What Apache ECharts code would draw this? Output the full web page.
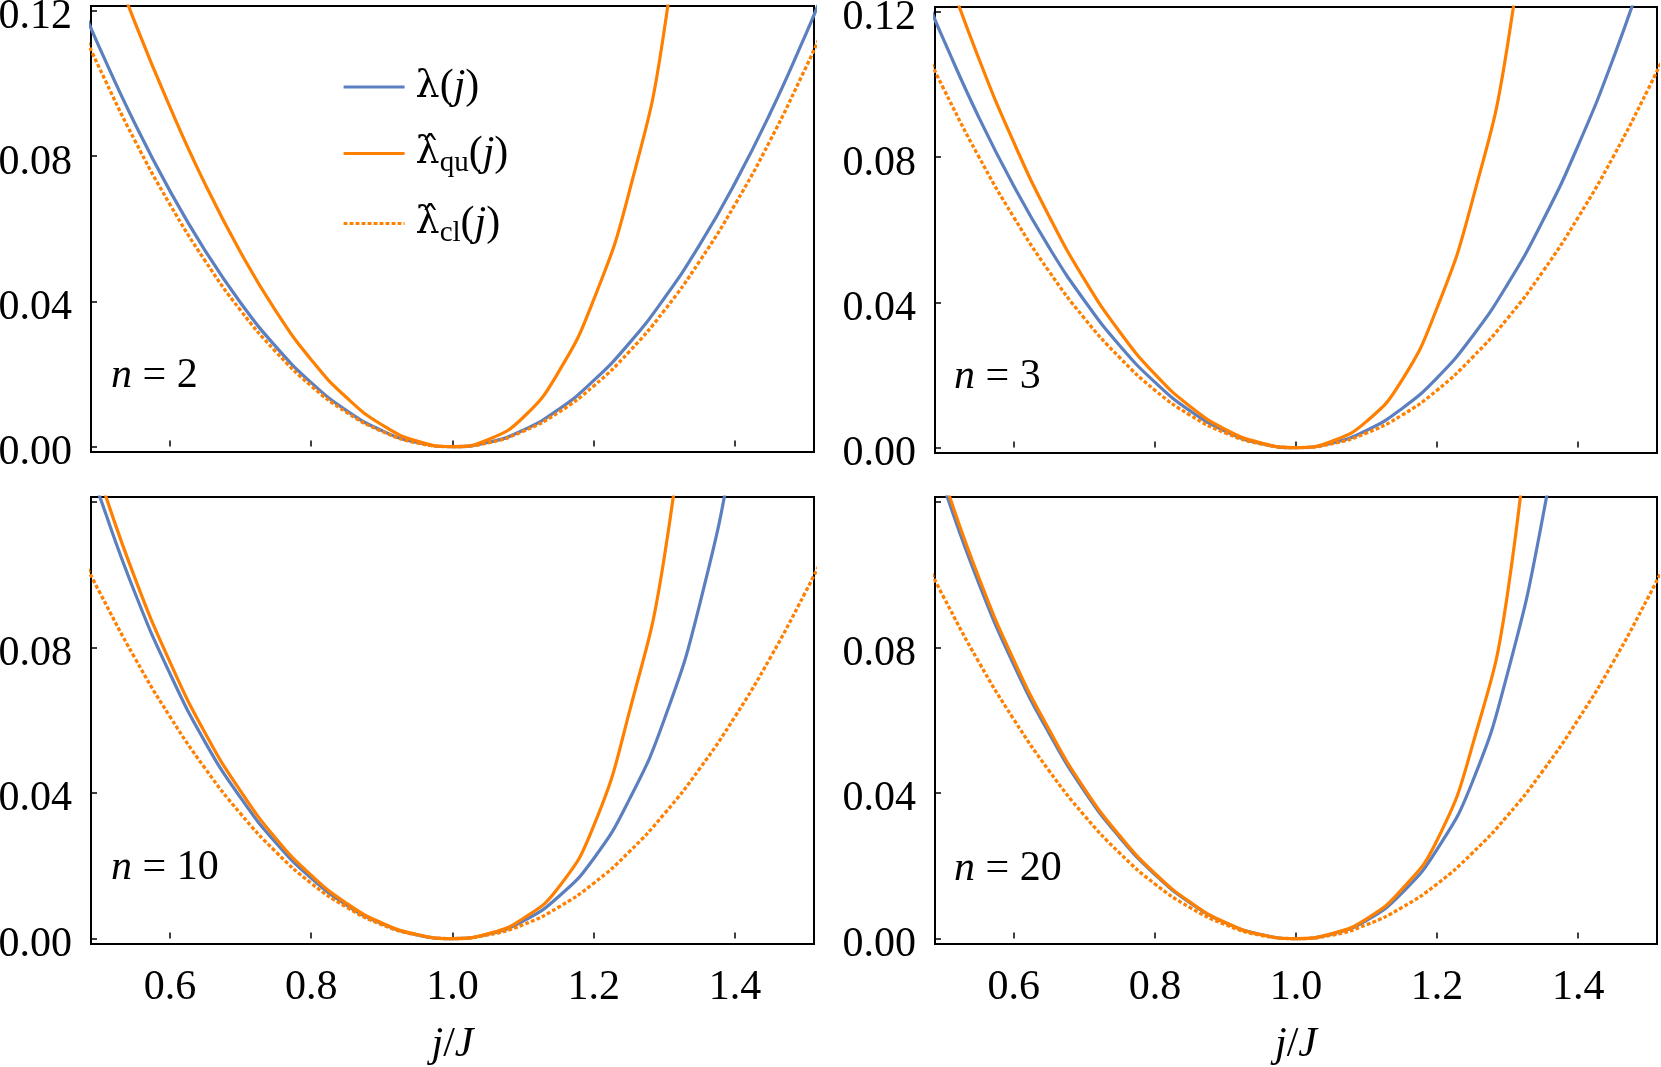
<!DOCTYPE html>
<html><head><meta charset="utf-8">
<script src="https://cdn.jsdelivr.net/npm/echarts@6/dist/echarts.min.js"></script>
<style>html,body{margin:0;padding:0;background:#fff}#c{width:1661px;height:1067px}</style>
</head><body><div id="c"></div>
<script>
// shared x grid (j/J)
const xs = [0.48, 0.50, 0.55, 0.60, 0.65, 0.70, 0.75, 0.80, 0.85, 0.90, 0.95, 1.00, 1.05, 1.10, 1.15, 1.20, 1.25, 1.30, 1.35, 1.40, 1.45, 1.50, 1.52];

// n = 2
const lam_n2 = [0.1190, 0.1100, 0.0891, 0.0704, 0.0539, 0.0396, 0.0275, 0.0176, 0.0099, 0.0044, 0.0011, 0, 0.0011, 0.0045, 0.0102, 0.0182, 0.0284, 0.0409, 0.0556, 0.0726, 0.0919, 0.1135, 0.1228];
const qu_n2  = [0.1540, 0.1430, 0.1170, 0.0935, 0.0722, 0.0535, 0.0373, 0.0239, 0.0135, 0.0060, 0.0015, 0, 0.0019, 0.0080, 0.0205, 0.0405, 0.0700, 0.1150, 0.2000, null, null, null, null];
const cl_n2  = [0.1128, 0.1043, 0.0844, 0.0667, 0.0511, 0.0375, 0.0261, 0.0167, 0.0094, 0.0042, 0.0010, 0, 0.0010, 0.0042, 0.0094, 0.0167, 0.0261, 0.0375, 0.0511, 0.0667, 0.0844, 0.1043, 0.1128];
// n = 3
const lam_n3 = [0.1217, 0.1125, 0.0911, 0.0720, 0.0551, 0.0405, 0.0281, 0.0180, 0.0101, 0.0045, 0.0011, 0, 0.0012, 0.0047, 0.0107, 0.0192, 0.0306, 0.0450, 0.0625, 0.0832, 0.1073, 0.1350, 0.1470];
const qu_n3  = [0.1460, 0.1338, 0.1073, 0.0840, 0.0637, 0.0463, 0.0319, 0.0202, 0.0113, 0.0050, 0.0013, 0, 0.0017, 0.0072, 0.0185, 0.0385, 0.0680, 0.1110, 0.1900, null, null, null, null];
const cl_n3  = [0.1071, 0.0990, 0.0802, 0.0634, 0.0485, 0.0356, 0.0248, 0.0158, 0.0089, 0.0040, 0.0010, 0, 0.0010, 0.0040, 0.0089, 0.0158, 0.0248, 0.0356, 0.0485, 0.0634, 0.0802, 0.0990, 0.1071];
// n = 10
const lam_n10 = [0.1336, 0.1218, 0.0952, 0.0728, 0.0539, 0.0387, 0.0263, 0.0166, 0.0092, 0.0041, 0.0010, 0, 0.0012, 0.0048, 0.0115, 0.0220, 0.0381, 0.0603, 0.0919, 0.1376, 0.2005, null, null];
const qu_n10  = [0.1390, 0.1268, 0.0993, 0.0760, 0.0564, 0.0405, 0.0275, 0.0174, 0.0097, 0.0043, 0.0011, 0, 0.0013, 0.0055, 0.0140, 0.0310, 0.0620, 0.1050, 0.1850, null, null, null, null];
const cl_n10  = [0.1030, 0.0953, 0.0772, 0.0610, 0.0467, 0.0343, 0.0238, 0.0152, 0.0086, 0.0038, 0.0010, 0, 0.0010, 0.0038, 0.0086, 0.0152, 0.0238, 0.0343, 0.0467, 0.0610, 0.0772, 0.0953, 0.1030];
// n = 20
const lam_n20 = [0.1366, 0.1245, 0.0978, 0.0752, 0.0564, 0.0405, 0.0278, 0.0176, 0.0098, 0.0043, 0.0011, 0, 0.0012, 0.0050, 0.0125, 0.0245, 0.0430, 0.0730, 0.1160, 0.1750, null, null, null];
const qu_n20  = [0.1388, 0.1265, 0.0994, 0.0765, 0.0574, 0.0412, 0.0283, 0.0179, 0.0100, 0.0044, 0.0011, 0, 0.0013, 0.0054, 0.0135, 0.0270, 0.0530, 0.0950, 0.1850, null, null, null, null];
const cl_n20  = [0.1017, 0.0940, 0.0761, 0.0602, 0.0461, 0.0338, 0.0235, 0.0150, 0.0085, 0.0038, 0.0009, 0, 0.0009, 0.0038, 0.0085, 0.0150, 0.0235, 0.0338, 0.0461, 0.0602, 0.0761, 0.0940, 0.1017];

const panelN = ['2', '3', '10', '20'];
const seriesNames = ['lam', 'qu', 'cl'];
const xTickStep = 0.2;
const yTickStep = 0.04;

const panels = [
  [lam_n2, qu_n2, cl_n2],
  [lam_n3, qu_n3, cl_n3],
  [lam_n10, qu_n10, cl_n10],
  [lam_n20, qu_n20, cl_n20]
];

const FONT = 'Liberation Serif';
const GREEK = 'DejaVu Serif';
const BLUE = '#5b7fbf';
const ORANGE = '#ff8000';

const gridBoxes = [
  {left: 91, top: 6, width: 723, height: 446},
  {left: 935, top: 7, width: 722, height: 446},
  {left: 91, top: 497, width: 723, height: 447},
  {left: 935, top: 497, width: 722, height: 447}
];
const labelPos = [[111, 376], [954, 377], [111, 868], [954, 869]];

function isMult(v, step) {
  const r = v / step;
  return Math.abs(r - Math.round(r)) < 1e-6;
}

const grid = gridBoxes.map(g => Object.assign({
  show: true, borderColor: '#000', borderWidth: 2, backgroundColor: 'rgba(0,0,0,0)',
  containLabel: false, outerBoundsMode: 'none'
}, g));

const xAxis = gridBoxes.map((g, i) => ({
  gridIndex: i, type: 'value', min: 0.4883, max: 1.5117,
  minInterval: xTickStep, maxInterval: xTickStep, splitNumber: 5,
  axisLine: {show: false}, splitLine: {show: false},
  axisTick: {show: true, inside: true, length: 6, lineStyle: {color: '#000', width: 1.5}},
  axisLabel: {
    show: i >= 2, margin: 23, fontFamily: FONT, fontSize: 42, color: '#000',
    formatter: v => isMult(v, xTickStep) ? v.toFixed(1) : ''
  },
  name: i >= 2 ? '{i|j}{r|/}{i|J}' : '',
  nameLocation: 'middle', nameGap: 80,
  nameTextStyle: {
    fontFamily: FONT, fontSize: 42, color: '#000',
    rich: {
      i: {fontFamily: FONT, fontSize: 42, fontStyle: 'italic', color: '#000'},
      r: {fontFamily: FONT, fontSize: 42, color: '#000'}
    }
  }
}));

const yAxis = gridBoxes.map((g, i) => ({
  gridIndex: i, type: 'value', min: -0.0015, max: 0.1213,
  minInterval: yTickStep, maxInterval: yTickStep, splitNumber: 3,
  axisLine: {show: false}, splitLine: {show: false},
  axisTick: {show: true, inside: true, length: 6, lineStyle: {color: '#000', width: 1.5}},
  axisLabel: {
    margin: 19, fontFamily: FONT, fontSize: 42, color: '#000',
    verticalAlign: 'top', lineHeight: 13,
    formatter: v => (isMult(v, yTickStep) && v > -0.001 && !(i >= 2 && v > 0.1)) ? v.toFixed(2) : ''
  }
}));

const styles = {
  lam: {color: BLUE, width: 3.2, type: 'solid'},
  qu: {color: ORANGE, width: 3.2, type: 'solid'},
  cl: {color: ORANGE, width: 3.3, type: [3.8, 2.2]}
};

const series = [];
panels.forEach((arrs, i) => {
  arrs.forEach((arr, k) => {
    const nm = seriesNames[k];
    series.push({
      type: 'line', name: nm, xAxisIndex: i, yAxisIndex: i,
      data: xs.map((x, j) => [x, arr[j]]),
      symbol: 'none', showSymbol: false, smooth: 0.5,
      connectNulls: false, clip: true, animation: false,
      color: styles[nm].color,
      itemStyle: {color: styles[nm].color},
      lineStyle: styles[nm],
      z: 2 + k
    });
  });
});

const legendText = {
  lam: '{g| }{l|\u03bb}{r|(}{i|j}{r|)}',
  qu: '{g| }{l|\u03bb\u0302}{s|qu}{r|(}{i|j}{r|)}',
  cl: '{g| }{l|\u03bb\u0302}{s|cl}{r|(}{i|j}{r|)}'
};

const graphic = panelN.map((n, i) => ({
  type: 'text', x: labelPos[i][0], y: labelPos[i][1], z: 10,
  style: {
    text: '{i|n}{r| = ' + n + '}',
    verticalAlign: 'middle', align: 'left', fill: '#000',
    fontFamily: FONT, fontSize: 42,
    rich: {
      i: {fontFamily: FONT, fontSize: 42, fontStyle: 'italic', fill: '#000'},
      r: {fontFamily: FONT, fontSize: 42, fill: '#000'}
    }
  }
}));

const chart = echarts.init(document.getElementById('c'), null, {renderer: 'canvas'});
chart.setOption({
  backgroundColor: '#fff',
  animation: false,
  grid, xAxis, yAxis, series, graphic,
  legend: {
    show: true, orient: 'vertical', left: 337, top: 61,
    itemWidth: 61, itemHeight: 20, itemGap: 21, selectedMode: false,
    data: seriesNames,
    formatter: name => legendText[name],
    itemStyle: {opacity: 0},
    lineStyle: {width: 3.2},
    textStyle: {
      fontFamily: FONT, fontSize: 42, color: '#000',
      rich: {
        g: {width: 6, fontSize: 42, lineHeight: 52},
        l: {fontFamily: GREEK, fontSize: 38, lineHeight: 52, color: '#000'},
        r: {fontFamily: FONT, fontSize: 42, lineHeight: 52, color: '#000'},
        i: {fontFamily: FONT, fontSize: 42, fontStyle: 'italic', lineHeight: 52, color: '#000'},
        s: {fontFamily: FONT, fontSize: 29, lineHeight: 30, padding: [20, 0, 0, 0], color: '#000'}
      }
    }
  }
});
</script>
</body></html>
